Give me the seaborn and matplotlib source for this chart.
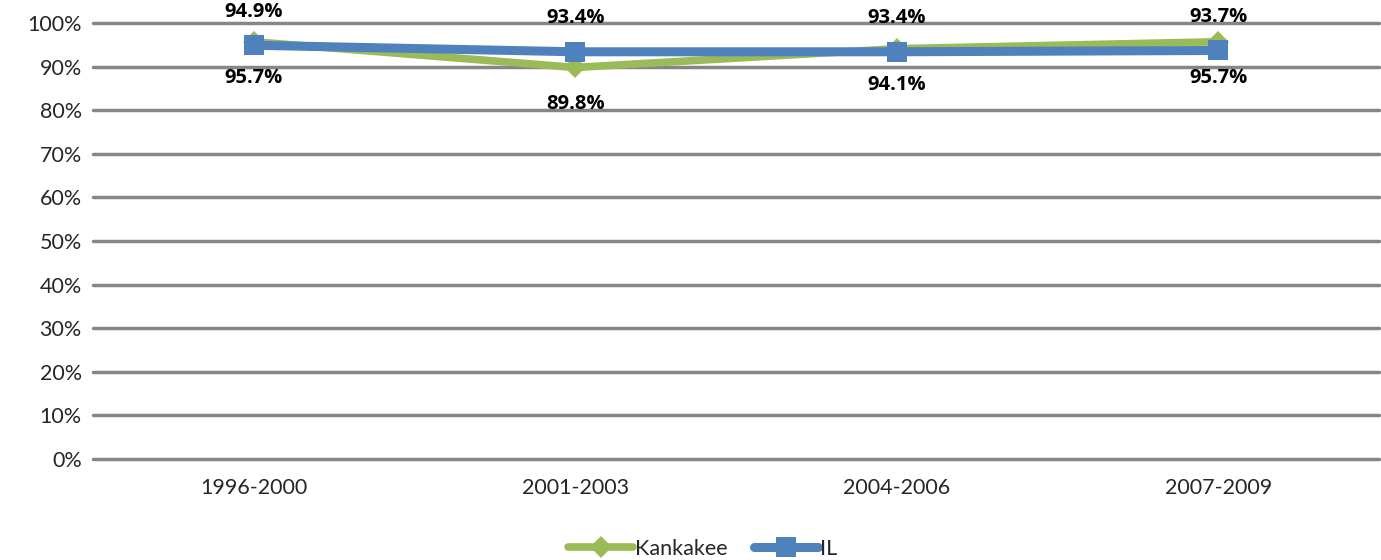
import matplotlib
matplotlib.use('Agg')
import matplotlib.pyplot as plt
import seaborn as sns
import pandas as pd
from matplotlib.ticker import PercentFormatter

# data
periods = ['1996-2000', '2001-2003', '2004-2006', '2007-2009']
kankakee = [95.7, 89.8, 94.1, 95.7]
il = [94.9, 93.4, 93.4, 93.7]

df = pd.DataFrame({'period': periods * 2,
                   'value': [v / 100 for v in kankakee + il],
                   'series': ['Kankakee'] * 4 + ['IL'] * 4})

sns.set_style('white')
plt.rcParams['font.family'] = ['Lato', 'DejaVu Sans']

green = '#9BBB59'
blue = '#4F81BD'

fig = plt.figure(figsize=(13.81, 5.6), dpi=100)
ax = fig.add_axes([0.0673, 0.1804, 0.9313, 0.7785])

for name, color, marker, ms, lw in [('Kankakee', green, 'D', 11, 5.5),
                                     ('IL', blue, 's', 14, 6.5)]:
    sub = df[df['series'] == name]
    sns.lineplot(data=sub, x='period', y='value', ax=ax, color=color,
                 marker=marker, markersize=ms, linewidth=lw,
                 markeredgewidth=0, label=name, zorder=3)

# data labels: IL above, Kankakee below
lab = dict(ha='center', va='center', fontsize=14.5, fontweight='bold',
           color='black', family=['Open Sans', 'DejaVu Sans'])
for i, (k, v) in enumerate(zip(kankakee, il)):
    ax.annotate(f'{v:.1f}%', (i, v / 100), xytext=(0, 24),
                textcoords='offset points', **lab)
    ax.annotate(f'{k:.1f}%', (i, k / 100), xytext=(0, -26),
                textcoords='offset points', **lab)

ax.set_ylim(0, 1)
ax.set_xlim(-0.5, 3.5)
ax.set_yticks([i / 10 for i in range(11)])
ax.yaxis.set_major_formatter(PercentFormatter(1.0, decimals=0))
ax.grid(axis='y', color='#868686', linewidth=2.5)
for gl in ax.get_ygridlines():
    gl.set_clip_on(False)
ax.set_axisbelow(True)
ax.tick_params(axis='both', labelsize=15.5, length=0, pad=8)
ax.tick_params(axis='x', pad=14)
ax.set_xlabel('')
ax.set_ylabel('')
for s in ax.spines.values():
    s.set_visible(False)

ax.get_legend().remove()
handles, labels = ax.get_legend_handles_labels()
fig.legend(handles, labels, loc='center', bbox_to_anchor=(0.509, 0.02), ncol=2,
           frameon=False, fontsize=15.5, handlelength=3, columnspacing=1.2,
           handletextpad=0.1)

fig.savefig('out.png', dpi=100)
